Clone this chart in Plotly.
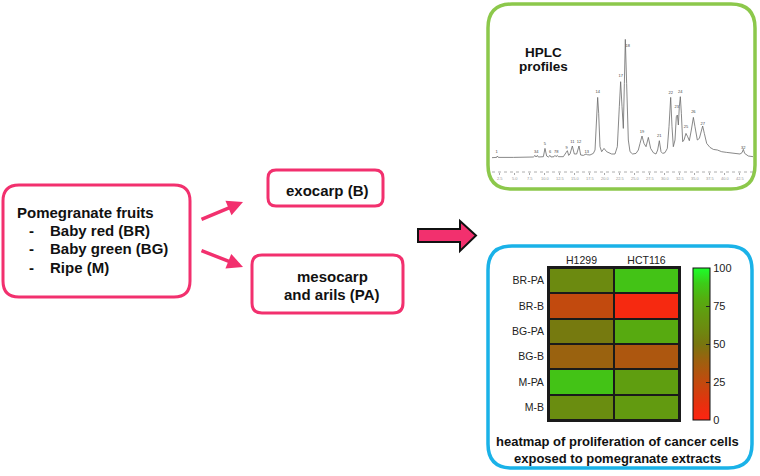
import plotly.graph_objects as go

# HPLC chromatogram (retention time in min, signal in mAU)
rt = [1.14, 1.98, 2.09, 2.26, 4.76, 8.09, 8.37, 8.53, 8.76, 8.92, 9.76, 10.03, 10.31,
      10.59, 10.87, 11.03, 11.53, 11.70, 11.87, 12.09, 12.26, 13.09, 13.53, 13.76, 13.98,
      14.20, 14.59, 14.92, 15.31, 15.70, 15.98, 16.42, 16.87, 17.09, 17.53, 18.09, 18.37,
      18.64, 18.81, 18.98, 19.20, 19.48, 19.87, 20.31, 21.14, 21.70, 22.09, 22.42, 22.64,
      22.87, 23.09, 23.26, 23.42, 23.64, 23.92, 24.20, 24.64, 25.20, 25.59, 25.87, 26.20,
      26.53, 26.87, 27.26, 27.64, 28.09, 28.53, 28.81, 29.09, 29.37, 29.64, 30.03, 30.42,
      30.70, 30.98, 31.20, 31.42, 31.70, 31.92, 32.09, 32.26, 32.42, 32.59, 32.76, 32.98,
      33.20, 33.53, 33.81, 34.09, 34.42, 34.76, 35.03, 35.42, 35.76, 36.09, 36.31, 36.59,
      36.98, 37.53, 38.09, 38.76, 39.48, 40.31, 41.42, 42.53, 42.87, 43.09, 43.31, 43.92,
      44.76]
mau = [0, 3, 17, 3, 3, 7, 23, 7, 23, 7, 10, 93, 17, 7, 23, 7, 10, 23, 10, 23, 10, 10, 50,
       70, 23, 37, 117, 37, 37, 117, 27, 23, 37, 30, 27, 43, 77, 443, 603, 443, 110, 60, 93,
       60, 37, 37, 110, 510, 760, 510, 293, 743, 1183, 743, 177, 60, 37, 43, 77, 143, 217,
       143, 110, 203, 93, 50, 37, 77, 170, 60, 43, 50, 93, 310, 603, 310, 110, 177, 410,
       427, 327, 510, 610, 443, 160, 177, 243, 210, 170, 277, 403, 310, 177, 193, 260, 317,
       243, 143, 103, 83, 77, 60, 53, 43, 37, 50, 83, 43, 17, 10]

peak_ids = ["1", "3", "4", "5", "6", "7", "8", "9", "11", "12", "13", "14", "17", "18",
            "19", "21", "22", "23", "24", "25", "26", "27", "32"]
peak_rt = [1.98, 8.37, 8.76, 10.03, 10.87, 11.70, 12.09, 13.64, 14.59, 15.70, 16.98, 18.81,
           22.64, 23.81, 26.20, 29.09, 30.98, 31.98, 32.59, 33.53, 34.76, 36.31, 43.09]
peak_h = [37, 37, 37, 117, 37, 37, 37, 77, 133, 133, 37, 637, 793, 1093, 233, 193, 627,
          483, 637, 283, 437, 320, 77]

# heatmap of proliferation (% of control)
cell_lines = ["H1299", "HCT116"]
extracts = ["BR-PA", "BR-B", "BG-PA", "BG-B", "M-PA", "M-B"]
proliferation = [[60, 87], [25, 4], [52, 78], [40, 33], [87, 72], [62, 70]]

PINK = "#f2306e"
GREEN = "#8cc84b"
BLUE = "#1ab2e8"
FONT = "Liberation Sans, Arial, sans-serif"


def rounded_box(x0, y0, x1, y1, r, color, width):
    path = (f"M{x0 + r},{y0} L{x1 - r},{y0} Q{x1},{y0} {x1},{y0 + r} "
            f"L{x1},{y1 - r} Q{x1},{y1} {x1 - r},{y1} L{x0 + r},{y1} "
            f"Q{x0},{y1} {x0},{y1 - r} L{x0},{y0 + r} Q{x0},{y0} {x0 + r},{y0} Z")
    return dict(type="path", xref="x", yref="y", path=path,
                line=dict(color=color, width=width), fillcolor="rgba(0,0,0,0)")


def label(x, y, text, size=15, anchor="center", bold=True, color="#111"):
    return dict(x=x, y=y, xref="x", yref="y", text=f"<b>{text}</b>" if bold else text,
                showarrow=False, xanchor=anchor, yanchor="middle",
                font=dict(family=FONT, size=size, color=color))


fig = go.Figure()

fig.add_trace(go.Scatter(x=rt, y=mau, mode="lines", xaxis="x2", yaxis="y2",
                         line=dict(color="#6a6a6a", width=0.8), showlegend=False,
                         hoverinfo="skip"))
fig.add_trace(go.Scatter(x=peak_rt, y=peak_h, mode="text", text=peak_ids,
                         textposition="top center", xaxis="x2", yaxis="y2",
                         textfont=dict(family=FONT, size=4, color="#444"),
                         showlegend=False, hoverinfo="skip"))

fig.add_trace(go.Heatmap(
    z=proliferation, x=cell_lines, y=extracts, xaxis="x3", yaxis="y3",
    zmin=0, zmax=100, xgap=2, ygap=2,
    colorscale=[[0, "#ff2412"], [0.1, "#e8300e"], [0.25, "#c24a0e"], [0.4, "#9a620f"],
                [0.5, "#78760f"], [0.6, "#6c8a10"], [0.7, "#629a10"], [0.8, "#54ae10"],
                [0.9, "#3ccc18"], [1, "#1cff2a"]],
    colorbar=dict(x=693 / 760, xanchor="left", xpad=0, y=1 - 344 / 476, yanchor="middle",
                  len=152 / 476, lenmode="fraction", ypad=0, thickness=17,
                  outlinecolor="#111", outlinewidth=1, tickvals=[0, 25, 50, 75, 100],
                  ticks="inside", ticklen=4, tickcolor="#222",
                  tickfont=dict(family=FONT, size=11, color="#222")),
    hoverinfo="skip"))

shapes = [
    rounded_box(3, 185, 190, 297, 16, PINK, 3),
    rounded_box(268, 170, 383, 206, 8, PINK, 3),
    rounded_box(252, 255, 403, 313, 10, PINK, 3),
    rounded_box(488, 4, 755, 189, 24, GREEN, 3.5),
    rounded_box(488, 246, 752, 468, 24, BLUE, 3.5),
    dict(type="path", xref="x", yref="y",
         path="M418,229 L460,229 L460,221 L476,235.5 L460,251 L460,242 L418,242 Z",
         fillcolor=PINK, line=dict(color="#111", width=2)),
    dict(type="line", xref="x2 domain", yref="y2 domain", x0=0, x1=1, y0=0, y1=0,
         line=dict(color="#999", width=0.8, dash="dot")),
    dict(type="rect", xref="x3 domain", yref="y3 domain", x0=0, x1=1, y0=0, y1=1,
         fillcolor="#1a1a1a", line=dict(width=0), layer="below"),
]

annotations = [
    label(15, 212, "Pomegranate fruits", anchor="left"),
    label(27, 230, "-", anchor="left"),
    label(27, 248, "-", anchor="left"),
    label(27, 267, "-", anchor="left"),
    label(48, 230, "Baby red (BR)", anchor="left"),
    label(48, 248, "Baby green (BG)", anchor="left"),
    label(48, 267, "Ripe (M)", anchor="left"),
    label(327, 190, "exocarp (B)"),
    label(332, 276, "mesocarp"),
    label(332, 294, "and arils (PA)"),
    label(543, 52, "HPLC", size=13.5),
    label(543, 66, "profiles", size=13.5),
    label(617, 441, "heatmap of proliferation of cancer cells", size=13),
    label(617, 458, "exposed to pomegranate extracts", size=13),
    dict(x=243, y=202, ax=200, ay=220, xref="x", yref="y", axref="x", ayref="y",
         text="", showarrow=True, arrowhead=2, arrowsize=0.9, arrowwidth=3.5,
         arrowcolor=PINK),
    dict(x=243, y=267, ax=200, ay=250, xref="x", yref="y", axref="x", ayref="y",
         text="", showarrow=True, arrowhead=2, arrowsize=0.9, arrowwidth=3.5,
         arrowcolor=PINK),
]

fig.update_layout(
    width=760, height=476, margin=dict(l=0, r=0, t=0, b=0),
    paper_bgcolor="white", plot_bgcolor="rgba(0,0,0,0)", showlegend=False,
    xaxis=dict(range=[0, 760], domain=[0, 1], visible=False, fixedrange=True),
    yaxis=dict(range=[476, 0], domain=[0, 1], visible=False, fixedrange=True),
    xaxis2=dict(domain=[492 / 760, 753 / 760], anchor="y2", range=[1.2, 44.7],
                tickvals=[2.5 * i for i in range(1, 18)], ticktext=[f"{2.5 * i:.1f}" for i in range(1, 18)],
                ticks="outside", ticklen=2, tickcolor="#aaa", showgrid=False, zeroline=False,
                showline=False, tickfont=dict(family=FONT, size=4, color="#999")),
    yaxis2=dict(domain=[1 - 172 / 476, 1 - 35 / 476], anchor="x2", range=[-143, 1227],
                visible=False),
    xaxis3=dict(domain=[549 / 760, 679 / 760], anchor="y3", side="top", showgrid=False,
                zeroline=False, showline=True, mirror=True, linecolor="#1a1a1a",
                linewidth=2, ticks="", ticklabelstandoff=-2,
                tickfont=dict(family=FONT, size=10.5, color="#222")),
    yaxis3=dict(domain=[1 - 420 / 476, 1 - 268 / 476], anchor="x3", autorange="reversed",
                showgrid=False, zeroline=False, showline=True, mirror=True,
                linecolor="#1a1a1a", linewidth=2, ticks="", ticklabelstandoff=1,
                tickfont=dict(family=FONT, size=10.5, color="#222")),
    shapes=shapes,
    annotations=annotations,
)

fig.write_html("out.html", config={"displayModeBar": False},
               post_script="document.body.style.margin='0';")
